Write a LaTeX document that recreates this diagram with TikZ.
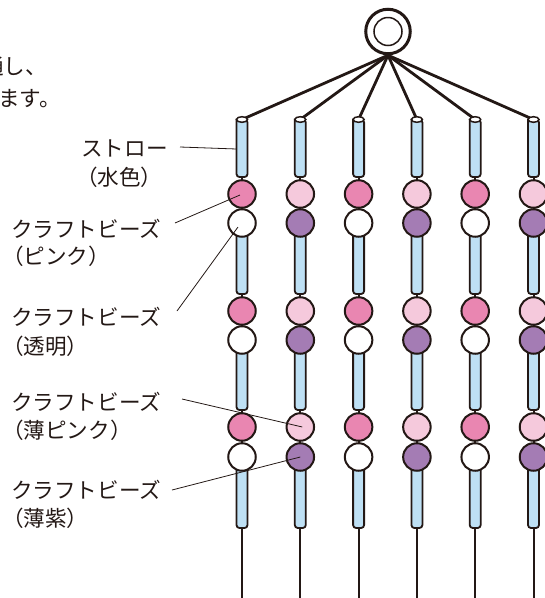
\documentclass[tikz,border=0pt]{standalone}
\usepackage{fontspec}
\newfontfamily\jp{Noto Sans CJK JP}
\usetikzlibrary{calc}
\definecolor{ink}{HTML}{231815}
\definecolor{strawc}{HTML}{BEE0F4}
\definecolor{pinkb}{HTML}{E986B1}
\definecolor{lpink}{HTML}{F5C9DC}
\definecolor{purp}{HTML}{A47CB4}
\begin{document}
\begin{tikzpicture}[x=1pt,y=-1pt,
  bead/.style={circle,draw=ink,line width=2pt,minimum size=27.5pt,inner sep=0pt},
  strawbody/.style={fill=strawc,draw=ink,line width=1.8pt,rounded corners=3pt},
  strawcap/.style={fill=white,draw=ink,line width=1.5pt},
  hang/.style={draw=ink,line width=2.8pt},
  thread/.style={draw=ink,line width=2pt},
  leader/.style={draw=ink,line width=0.8pt},
  lab/.style={font=\jp\fontsize{21.6}{25}\selectfont,inner sep=0pt,anchor=west,text=ink}]
\useasboundingbox (0,0) rectangle (545,598);
\clip (0,0) rectangle (545,598);

% top text (cut at left edge)
\node[lab] (intro1) at (-18,66) {通し、};
\node[lab] (intro2) at (-2,99) {ます。};

% ring
\node[circle,draw=ink,line width=3pt,minimum size=44.5pt,inner sep=0pt,fill=white] (ring) at (388,31.5) {};
\node[circle,draw=ink,line width=1.5pt,minimum size=28pt,inner sep=0pt] (ringin) at (388,31.5) {};

\foreach \i/\x in {1/242,2/300.3,3/358.6,4/416.9,5/475.2,6/533.5}{
  \coordinate (t\i) at (\x,119.5);
  \coordinate (e\i) at (\x,600);
}
% threads
\foreach \i in {1,...,6}{ \draw[thread] (t\i) -- (e\i); }
% hanging lines
\foreach \i in {1,...,6}{ \draw[hang] (ring.south) -- (t\i); }

% straws
\foreach \i/\x in {1/242,2/300.3,3/358.6,4/416.9,5/475.2,6/533.5}{
  \draw[strawbody] (\x-5.5,119.5) -- (\x-5.5,177) -- (\x+5.5,177) -- (\x+5.5,119.5) [sharp corners] -- cycle;
  \draw[strawcap] (t\i) ellipse (5.5pt and 2.8pt);
  \draw[strawbody] (\x-5.5,225) -- (\x-5.5,294) -- (\x+5.5,294) -- (\x+5.5,225) [sharp corners] -- cycle;
  \draw[strawbody] (\x-5.5,342) -- (\x-5.5,410) -- (\x+5.5,410) -- (\x+5.5,342) [sharp corners] -- cycle;
  \draw[strawbody] (\x-5.5,460) -- (\x-5.5,528) -- (\x+5.5,528) -- (\x+5.5,460) [sharp corners] -- cycle;
}

% beads
\foreach \i/\x/\ca/\cb in {1/242/pinkb/white,2/300.3/lpink/purp,3/358.6/pinkb/white,4/416.9/lpink/purp,5/475.2/pinkb/white,6/533.5/lpink/purp}{
  \node[bead,fill=\ca] (b\i1) at (\x,194) {};
  \node[bead,fill=\cb] (b\i2) at (\x,223) {};
  \node[bead,fill=\ca] (b\i3) at (\x,311) {};
  \node[bead,fill=\cb] (b\i4) at (\x,340) {};
  \node[bead,fill=\ca] (b\i5) at (\x,427) {};
  \node[bead,fill=\cb] (b\i6) at (\x,457) {};
}

% labels
\node[lab] (l1a) at (81,148) {ストロー};
\node[lab] (l1b) at (76,177) {（水色）};
\node[lab] (l2a) at (11,229) {クラフトビーズ};
\node[lab] (l2b) at (2,256) {（ピンク）};
\node[lab] (l3a) at (11,317) {クラフトビーズ};
\node[lab] (l3b) at (2,346) {（透明）};
\node[lab] (l4a) at (11,402) {クラフトビーズ};
\node[lab] (l4b) at (2,430) {（薄ピンク）};
\node[lab] (l5a) at (11,490) {クラフトビーズ};
\node[lab] (l5b) at (2,518) {（薄紫）};

% leader lines
\coordinate (s1) at (180,147);
\coordinate (s2) at (175,223);
\coordinate (s3) at (177,311);
\coordinate (s4) at (182,399);
\coordinate (s5) at (172,490);
\coordinate (m1) at (236.5,149);
\draw[leader] (s1) -- (m1);
\draw[leader] (s2) -- ($(b11.center)+(-2,1)$);
\draw[leader] (s3) -- ($(b12.center)+(-4,4)$);
\draw[leader] (s4) -- ($(b25.center)+(2,0)$);
\draw[leader] (s5) -- (b26.center);
\end{tikzpicture}
\end{document}
